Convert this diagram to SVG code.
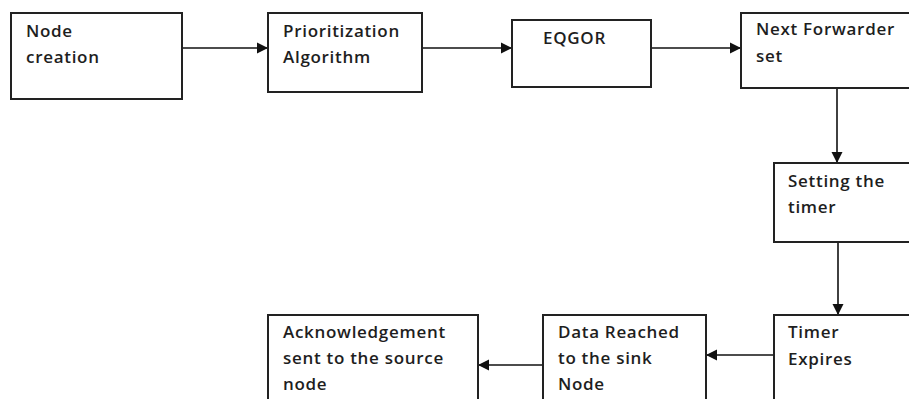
<svg xmlns="http://www.w3.org/2000/svg" width="909" height="399" viewBox="0 0 909 399">
<defs>
<style>
.box{fill:#fff;stroke:#222;stroke-width:2}
.lbl{font-family:"Open Sans","Liberation Sans",sans-serif;font-size:17px;font-weight:600;letter-spacing:0.7px;fill:#1e1e1e}
.con{stroke:#111;stroke-width:1.6;fill:none;marker-end:url(#ah)}
</style>
<marker id="ah" viewBox="0 0 10 10" refX="10" refY="5" markerWidth="7" markerHeight="7" markerUnits="strokeWidth" orient="auto">
<path d="M0,0 L10,5 L0,10 z" fill="#111"/>
</marker>
</defs>
<rect width="909" height="399" fill="#fff"/>
<g id="connectors">
<line class="con" x1="182" y1="48" x2="268" y2="48"/>
<line class="con" x1="422" y1="48" x2="512" y2="48"/>
<line class="con" x1="651" y1="48" x2="741" y2="48"/>
<line class="con" x1="837" y1="88" x2="837" y2="163"/>
<line class="con" x1="838" y1="242" x2="838" y2="315"/>
<line class="con" x1="774" y1="355" x2="706" y2="355"/>
<line class="con" x1="543" y1="365" x2="478" y2="365"/>
</g>
<g id="n1"><rect class="box" x="11" y="13" width="171" height="86"/>
<text class="lbl" x="26" y="37">Node</text><text class="lbl" x="26" y="63">creation</text></g>
<g id="n2"><rect class="box" x="268" y="13" width="154" height="79"/>
<text class="lbl" x="283" y="37">Prioritization</text><text class="lbl" x="283" y="63">Algorithm</text></g>
<g id="n3"><rect class="box" x="512" y="20" width="139" height="67"/>
<text class="lbl" x="543" y="44">EQGOR</text></g>
<g id="n4"><rect class="box" x="741" y="13" width="180" height="75"/>
<text class="lbl" x="756" y="35">Next Forwarder</text><text class="lbl" x="756" y="62">set</text></g>
<g id="n5"><rect class="box" x="774" y="163" width="150" height="79"/>
<text class="lbl" x="788" y="187">Setting the</text><text class="lbl" x="788" y="213">timer</text></g>
<g id="n6"><rect class="box" x="774" y="315" width="150" height="100"/>
<text class="lbl" x="788" y="338">Timer</text><text class="lbl" x="788" y="365">Expires</text></g>
<g id="n7"><rect class="box" x="543" y="315" width="163" height="100"/>
<text class="lbl" x="558" y="338">Data Reached</text><text class="lbl" x="558" y="364">to the sink</text><text class="lbl" x="558" y="390">Node</text></g>
<g id="n8"><rect class="box" x="268" y="315" width="210" height="100"/>
<text class="lbl" x="283" y="338">Acknowledgement</text><text class="lbl" x="283" y="364">sent to the source</text><text class="lbl" x="283" y="390">node</text></g>
</svg>
